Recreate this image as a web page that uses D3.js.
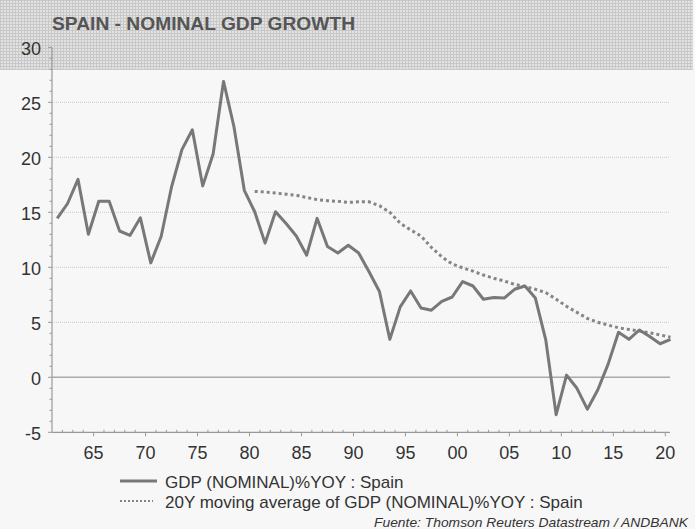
<!DOCTYPE html>
<html>
<head>
<meta charset="utf-8">
<script src="https://cdn.jsdelivr.net/npm/d3@7"></script>
<style>
  body { margin: 0; background: #f7f7f7; }
  svg { display: block; }
  text { font-family: "Liberation Sans", Arial, sans-serif; }
</style>
</head>
<body>
<div id="chart"></div>
<script>
// yearly points, 1961-2020
const years = d3.range(1961, 2021);
const gdpYoy = [14.45, 15.8, 18.0, 13.0, 16.0, 16.0, 13.3, 12.9, 14.5, 10.4,
  12.8, 17.3, 20.7, 22.5, 17.4, 20.3, 26.9, 22.8, 17.0, 15.05,
  12.2, 15.05, 14.0, 12.85, 11.1, 14.45, 11.9, 11.3, 12.0, 11.3,
  9.6, 7.8, 3.45, 6.4, 7.85, 6.3, 6.1, 6.9, 7.3, 8.7,
  8.3, 7.1, 7.25, 7.2, 8.0, 8.3, 7.2, 3.4, -3.4, 0.2,
  -1.0, -2.9, -1.15, 1.2, 4.1, 3.45, 4.3, 3.7, 3.05, 3.45];
// 20Y moving average, 1980-2020
const maYears = d3.range(1980, 2021);
const ma20 = [16.9, 16.85, 16.75, 16.65, 16.55, 16.35, 16.15, 16.05, 16.0, 15.9,
  15.95, 15.95, 15.6, 15.0, 14.0, 13.4, 12.85, 11.8, 10.95, 10.3,
  9.95, 9.65, 9.3, 9.0, 8.75, 8.45, 8.25, 8.0, 7.7, 7.1,
  6.45, 5.9, 5.35, 5.0, 4.75, 4.5, 4.35, 4.2, 4.05, 3.85, 3.65];
const yTicks = [-5, 0, 5, 10, 15, 20, 25, 30];
const xTicks = [1965, 1970, 1975, 1980, 1985, 1990, 1995, 2000, 2005, 2010, 2015, 2020];
const legendLabels = ["GDP (NOMINAL)%YOY : Spain", "20Y moving average of GDP (NOMINAL)%YOY : Spain"];

const W = 695, H = 529;
const svg = d3.select("#chart").append("svg").attr("width", W).attr("height", H);

const x = d3.scaleLinear().domain([1961, 2020.5]).range([52, 670.5]);
const y = d3.scaleLinear().domain([-5, 30]).range([432.3, 47.3]);

// hatched header band
const defs = svg.append("defs");
const pat = defs.append("pattern").attr("id", "hatch")
  .attr("width", 3).attr("height", 3).attr("patternUnits", "userSpaceOnUse");
pat.append("rect").attr("width", 3).attr("height", 3).attr("fill", "#e2e2e2");
pat.append("rect").attr("width", 3).attr("height", 1).attr("fill", "#c8c8c8");
pat.append("rect").attr("width", 1).attr("height", 3).attr("fill", "#c8c8c8");

svg.append("rect").attr("width", W).attr("height", H).attr("fill", "#f7f7f7");
svg.append("rect").attr("x", 0).attr("y", 0).attr("width", 693).attr("height", 70)
  .attr("fill", "url(#hatch)");

svg.append("text").attr("x", 52).attr("y", 30)
  .attr("font-size", 18.5).attr("font-weight", "bold").attr("fill", "#555")
  .attr("textLength", 303).attr("lengthAdjust", "spacingAndGlyphs")
  .text("SPAIN - NOMINAL GDP GROWTH");

// gridlines
svg.append("g").selectAll("line").data(yTicks.filter(d => d != 0 && d != -5 && d != 30)).join("line")
  .attr("x1", 52).attr("x2", 670).attr("y1", d => y(d)).attr("y2", d => y(d))
  .attr("stroke", "#c8c8c8").attr("stroke-width", 1).attr("stroke-dasharray", "1,1");
svg.append("line").attr("x1", 52).attr("x2", 670).attr("y1", y(0)).attr("y2", y(0))
  .attr("stroke", "#aaa").attr("stroke-width", 1.5);

// y axis
const yAxis = svg.append("g");
yAxis.append("line").attr("x1", 52).attr("x2", 52).attr("y1", y(30)).attr("y2", y(-5))
  .attr("stroke", "#999").attr("stroke-width", 1.2);
yAxis.selectAll(".minor").data(d3.range(-5, 31)).join("line")
  .attr("x1", d => d % 5 == 0 ? 48 : 49.5).attr("x2", 52)
  .attr("y1", d => y(d)).attr("y2", d => y(d))
  .attr("stroke", "#999");
yAxis.selectAll("text").data(yTicks).join("text")
  .attr("x", 41).attr("y", d => y(d)).attr("dy", "0.4em")
  .attr("text-anchor", "end").attr("font-size", 18).attr("fill", "#333")
  .text(d => d);

// x axis
const xAxis = svg.append("g");
xAxis.append("line").attr("x1", 52).attr("x2", 670).attr("y1", y(-5)).attr("y2", y(-5))
  .attr("stroke", "#999").attr("stroke-width", 1.2);
xAxis.selectAll(".minor").data(d3.range(1962, 2021)).join("line")
  .attr("x1", d => x(d)).attr("x2", d => x(d))
  .attr("y1", d => d % 5 == 0 ? y(-5) : y(-5) - 2.5)
  .attr("y2", d => d % 5 == 0 ? y(-5) + 4 : y(-5))
  .attr("stroke", "#999");
xAxis.selectAll("text").data(xTicks).join("text")
  .attr("x", d => x(d)).attr("y", 459)
  .attr("text-anchor", "middle").attr("font-size", 18).attr("fill", "#333")
  .text(d => d3.format("02d")(d % 100));

// series
const gdpLine = d3.line().x((d, i) => x(years[i] + 0.5)).y(d => y(d));
const maLine = d3.line().x((d, i) => x(maYears[i] + 0.5)).y(d => y(d));

svg.append("path").datum(ma20).attr("d", maLine)
  .attr("fill", "none").attr("stroke", "#858585").attr("stroke-width", 3)
  .attr("stroke-dasharray", "3,3");
svg.append("path").datum(gdpYoy).attr("d", gdpLine)
  .attr("fill", "none").attr("stroke", "#787878").attr("stroke-width", 3)
  .attr("stroke-linejoin", "round");

// legend
const leg = svg.append("g");
leg.append("line").attr("x1", 120).attr("x2", 157).attr("y1", 481).attr("y2", 481)
  .attr("stroke", "#787878").attr("stroke-width", 3);
leg.append("line").attr("x1", 120).attr("x2", 153).attr("y1", 501).attr("y2", 501)
  .attr("stroke", "#858585").attr("stroke-width", 2).attr("stroke-dasharray", "2,2");
leg.selectAll("text").data(legendLabels).join("text")
  .attr("x", 165).attr("y", (d, i) => 488 + i * 20)
  .attr("font-size", 17).attr("fill", "#333")
  .text(d => d);

svg.append("text").attr("x", 688).attr("y", 527).attr("text-anchor", "end")
  .attr("font-size", 13.5).attr("font-style", "italic").attr("fill", "#333")
  .attr("textLength", 314).attr("lengthAdjust", "spacingAndGlyphs")
  .text("Fuente: Thomson Reuters Datastream / ANDBANK");
</script>
</body>
</html>
